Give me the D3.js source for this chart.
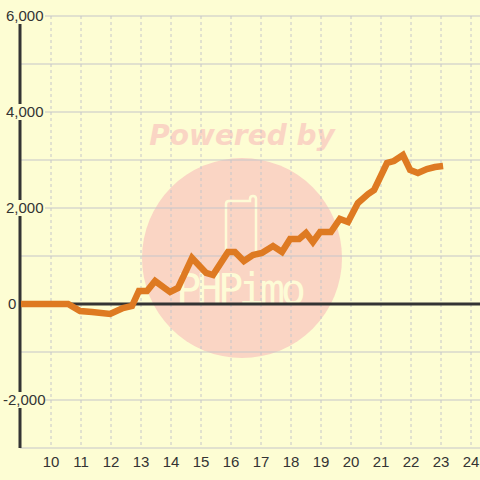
<!DOCTYPE html>
<html>
<head>
<meta charset="utf-8">
<script src="https://cdn.jsdelivr.net/npm/d3@7"></script>
<style>
  body { margin: 0; background: #fdfdd3; }
  svg { display: block; }
</style>
</head>
<body>
<div id="chart"></div>
<script>
// data
var weeks = [9.0, 10.57, 10.97, 11.37, 11.97, 12.4, 12.7, 12.93, 13.2, 13.47, 13.97, 14.23, 14.7,
    15.17, 15.4, 15.9, 16.13, 16.43, 16.73, 17.03, 17.4, 17.7, 17.97, 18.27, 18.5, 18.73, 18.97,
    19.33, 19.63, 19.9, 20.23, 20.57, 20.77, 21.2, 21.43, 21.73, 21.97, 22.23, 22.53, 22.8, 23.07];
var values = [0, 0, -146, -167, -208, -83, -42, 271, 271, 479, 250, 333, 958,
    646, 604, 1083, 1083, 896, 1021, 1062, 1208, 1083, 1354, 1354, 1479, 1292, 1500,
    1500, 1771, 1708, 2104, 2292, 2375, 2938, 2979, 3104, 2792, 2729, 2812, 2854, 2875];
var xTicks = [10, 11, 12, 13, 14, 15, 16, 17, 18, 19, 20, 21, 22, 23, 24];
var yLabels = [6000, 4000, 2000, 0, -2000];
var yGrid = [6000, 5000, 4000, 3000, 2000, 1000, -1000, -2000, -3000];

var bg = "#fdfdd3";
var width = 480, height = 480;

var x = d3.scaleLinear().domain([9, 24]).range([21, 471]);
var y = d3.scaleLinear().domain([-3000, 6000]).range([448, 16]);

var svg = d3.select("#chart").append("svg")
    .attr("width", width)
    .attr("height", height)
    .style("font-family", "'Liberation Sans', Arial, sans-serif");

svg.append("rect").attr("width", width).attr("height", height).attr("fill", bg);

// watermark
var wm = svg.append("g");
wm.append("circle")
    .attr("cx", 242).attr("cy", 258).attr("r", 100)
    .attr("fill", "#fad5c4");
wm.append("text")
    .attr("x", 242).attr("y", 145)
    .attr("text-anchor", "middle")
    .style("font-family", "'DejaVu Sans', sans-serif")
    .style("font-weight", "bold")
    .style("font-style", "italic")
    .style("font-size", "28px")
    .attr("fill", "#fad5c4")
    .text("Powered by");
wm.append("path")
    .attr("d", "M226,258 V204 Q226,201 229,201 H250 V199 Q250,196 253,196 Q256,196 256,199 V258")
    .attr("fill", "none")
    .attr("stroke", "#fdfbd6")
    .attr("stroke-width", 2.5);
wm.append("text")
    .attr("x", 241).attr("y", 304)
    .attr("text-anchor", "middle")
    .style("font-family", "'DejaVu Sans Mono', monospace")
    .style("font-size", "42px")
    .attr("fill", "#fdfbd6")
    .attr("textLength", 130)
    .text("PHPimo");

// grid
svg.append("g").selectAll("line")
    .data(yGrid)
    .enter().append("line")
    .attr("x1", 20).attr("x2", width)
    .attr("y1", function(d) { return y(d); })
    .attr("y2", function(d) { return y(d); })
    .attr("stroke", "#c6c6ca")
    .attr("stroke-width", 1.2);

svg.append("g").selectAll("line")
    .data(xTicks)
    .enter().append("line")
    .attr("x1", function(d) { return x(d); })
    .attr("x2", function(d) { return x(d); })
    .attr("y1", y(6000)).attr("y2", y(-3000))
    .attr("stroke", "#c6c6ca")
    .attr("stroke-width", 1)
    .attr("stroke-dasharray", "3,3");

// axes
svg.append("line")
    .attr("x1", 20).attr("x2", width)
    .attr("y1", y(0)).attr("y2", y(0))
    .attr("stroke", "#333")
    .attr("stroke-width", 3);
svg.append("line")
    .attr("x1", 20).attr("x2", 20)
    .attr("y1", y(6000)).attr("y2", y(-3000))
    .attr("stroke", "#333")
    .attr("stroke-width", 3);

// y labels with background boxes (plain hyphen for negatives)
var fmt = function(d) { return d3.format(",")(d).replace("\u2212", "-"); };
var yl = svg.append("g").selectAll("g")
    .data(yLabels)
    .enter().append("g");
yl.append("rect")
    .attr("x", function(d) { return d === 0 ? 6 : 2; })
    .attr("width", function(d) { return d === 0 ? 11 : 43; })
    .attr("y", function(d) { return y(d) - 8; })
    .attr("height", 16)
    .attr("fill", bg);
yl.append("text")
    .attr("x", function(d) { return d === 0 ? 8 : (d < 0 ? 3 : 6); })
    .attr("y", function(d) { return y(d); })
    .attr("dy", "0.35em")
    .style("font-size", "15px")
    .attr("fill", "#333")
    .text(function(d) { return fmt(d); });

// x labels
svg.append("g").selectAll("text")
    .data(xTicks)
    .enter().append("text")
    .attr("x", function(d) { return x(d); })
    .attr("y", 467)
    .attr("text-anchor", "middle")
    .style("font-size", "15px")
    .attr("fill", "#333")
    .text(function(d) { return d; });

// the line
var line = d3.line()
    .x(function(d, i) { return x(weeks[i]); })
    .y(function(d) { return y(d); });

svg.append("path")
    .datum(values)
    .attr("d", line)
    .attr("fill", "none")
    .attr("stroke", "#de7a22")
    .attr("stroke-width", 6.5);
</script>
</body>
</html>
